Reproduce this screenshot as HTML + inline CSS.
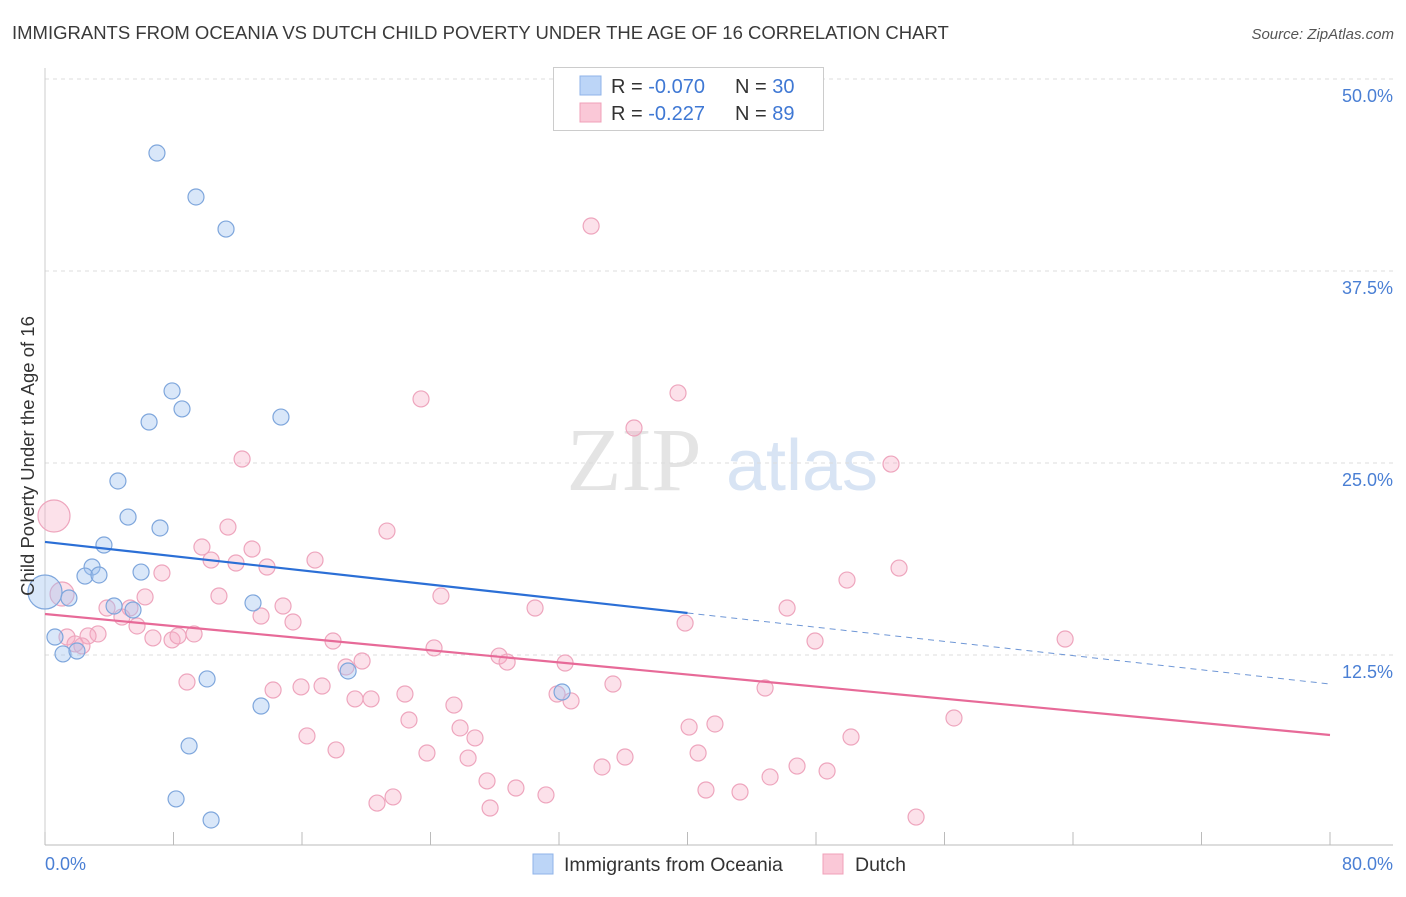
<!DOCTYPE html>
<html><head><meta charset="utf-8"><style>
body{margin:0;background:#fff;font-family:"Liberation Sans",sans-serif}
</style></head><body>
<svg id="c" width="1406" height="892" xmlns="http://www.w3.org/2000/svg" font-family="Liberation Sans, sans-serif">
<text x="12" y="39" font-size="18.5" fill="#3a3a3a">IMMIGRANTS FROM OCEANIA VS DUTCH CHILD POVERTY UNDER THE AGE OF 16 CORRELATION CHART</text>
<text x="1394" y="39" font-size="15" fill="#555" font-style="italic" text-anchor="end">Source: ZipAtlas.com</text>
<text x="634" y="490" font-size="90" fill="#e4e4e4" font-family="Liberation Serif, serif" text-anchor="middle">ZIP</text>
<text x="802" y="490" font-size="72" fill="#d8e4f4" text-anchor="middle">atlas</text>
<g id="grid"></g><g id="pts"></g><g id="lines"></g>
<text transform="translate(34,456) rotate(-90)" font-size="18.5" fill="#333" text-anchor="middle">Child Poverty Under the Age of 16</text>
<text x="45" y="870" font-size="18" fill="#4a7fd4">0.0%</text>
<text x="1393" y="870" font-size="18" fill="#4a7fd4" text-anchor="end">80.0%</text>
<g>
<rect x="553.5" y="67.5" width="270" height="63" fill="#fff" stroke="#ccc"/>
<rect x="580" y="76" width="21" height="19" fill="#bcd5f7" stroke="#8fb3e8"/>
<rect x="580" y="103" width="21" height="19" fill="#fac8d7" stroke="#f0a0b8"/>
<text x="611" y="93" font-size="20" fill="#333">R = <tspan fill="#3f78d4">-0.070</tspan></text>
<text x="735" y="93" font-size="20" fill="#333">N = <tspan fill="#3f78d4">30</tspan></text>
<text x="611" y="120" font-size="20" fill="#333">R =  <tspan fill="#3f78d4">-0.227</tspan></text>
<text x="735" y="120" font-size="20" fill="#333">N =  <tspan fill="#3f78d4">89</tspan></text>
</g>
<g>
<rect x="533" y="854" width="20" height="20" fill="#bcd5f7" stroke="#8fb3e8"/>
<text x="564" y="871" font-size="19.5" fill="#333">Immigrants from Oceania</text>
<rect x="823" y="854" width="20" height="20" fill="#fac8d7" stroke="#f0a0b8"/>
<text x="855" y="871" font-size="19.5" fill="#333">Dutch</text>
</g>
</svg>
<script>
const yTicks=[12.5,25,37.5,50];
const xTicks=[0,8,16,24,32,40,48,56,64,72,80];
const blueX=[6.97,9.40,11.27,7.91,8.53,6.48,14.69,4.54,5.17,7.16,3.67,2.93,2.49,3.36,5.98,1.49,4.30,5.48,12.95,0.62,1.12,1.99,10.09,18.87,32.19,13.45,8.97,8.16,10.34,0.0];
const blueY=[45.18,42.32,40.23,29.69,28.52,27.67,27.99,23.83,21.48,20.77,19.66,18.23,17.64,17.71,17.90,16.21,15.69,15.43,15.89,13.67,12.57,12.76,10.94,11.46,10.09,9.18,6.58,3.13,1.76,16.6];
const pinkX=[34.0,23.41,39.41,36.67,52.67,12.27,11.39,21.29,0.56,9.77,12.89,10.34,11.89,13.82,16.81,7.28,49.93,53.17,6.23,10.83,24.65,1.06,3.86,5.29,14.82,30.51,46.20,4.79,13.45,15.44,5.73,39.85,1.37,3.30,2.68,6.72,7.91,8.28,9.28,2.30,1.87,17.93,47.94,63.51,24.22,28.27,28.77,32.38,19.74,18.74,8.84,14.20,15.94,17.25,35.36,44.83,22.41,31.88,19.30,20.30,32.75,25.46,22.66,56.59,41.71,40.10,25.84,16.31,26.77,50.18,18.12,23.78,40.66,26.34,36.11,34.68,46.82,48.69,45.14,27.52,29.32,41.15,43.27,31.19,21.67,20.67,27.71,54.23];
const pinkY=[40.43,29.17,29.56,27.28,24.93,25.26,20.83,20.57,21.55,19.53,19.40,18.68,18.49,18.23,18.68,17.84,17.38,18.16,16.28,16.34,16.34,16.47,15.56,15.56,15.69,15.56,15.56,14.97,15.04,14.65,14.39,14.58,13.67,13.87,13.74,13.61,13.48,13.74,13.87,13.09,13.22,13.41,13.41,13.54,12.96,12.43,12.04,11.98,12.11,11.72,10.74,10.22,10.42,10.48,10.61,10.35,9.96,9.96,9.64,9.64,9.51,9.24,8.27,8.40,8.01,7.81,7.75,7.23,7.10,7.16,6.32,6.12,6.12,5.79,5.86,5.21,5.27,4.95,4.56,4.30,3.84,3.71,3.58,3.39,3.26,2.86,2.54,1.95];
const blueTrend=[19.86,10.61];
const pinkTrend=[15.17,7.29];
const X=v=>45+v/80*1285, Y=v=>847-v*15.36;
const NS='http://www.w3.org/2000/svg';
function mk(t,a,p){const e=document.createElementNS(NS,t);for(const k in a)e.setAttribute(k,a[k]);p.appendChild(e);return e;}
const g=document.getElementById('grid');
yTicks.forEach(t=>{const l=mk('line',{x1:45,x2:1393,y1:Y(t),y2:Y(t),stroke:'#ddd','stroke-dasharray':'4,4'},g);


const tx=mk('text',{x:1393,y:Y(t)+23,'font-size':18,fill:'#4a7fd4','text-anchor':'end'},g);tx.textContent=t.toFixed(1)+'%';

});
const ax=mk('line',{x1:45,x2:1393,y1:845,y2:845,stroke:'#bbb'},g);


const ay=mk('line',{x1:45,x2:45,y1:68,y2:845,stroke:'#ccc'},g);


xTicks.forEach(t=>{const l=mk('line',{x1:X(t),x2:X(t),y1:832,y2:845,stroke:'#bbb'},g);

});
const p=document.getElementById('pts');
pinkX.forEach((v,i)=>{const big=(i==8);const c=mk('circle',{cx:X(v),cy:Y(pinkY[i]),r:big?16:(i==21?12:8),fill:'rgba(247,170,195,0.35)',stroke:'#eea5bd','stroke-width':1.2},p);

});
blueX.forEach((v,i)=>{const big=(i==29);const c=mk('circle',{cx:X(v),cy:Y(blueY[i]),r:big?17:8,fill:'rgba(160,195,240,0.4)',stroke:'#7ea6dc','stroke-width':1.2},p);

});
const L=document.getElementById('lines');
const bx=40,by=blueTrend[0]+(blueTrend[1]-blueTrend[0])*bx/80;
const b1=mk('line',{x1:X(0),y1:Y(blueTrend[0]),x2:X(bx),y2:Y(by),stroke:'#2b6fd6','stroke-width':2.2},L);


const b2=mk('line',{x1:X(bx),y1:Y(by),x2:X(80),y2:Y(blueTrend[1]),stroke:'#6f97d6','stroke-width':1,'stroke-dasharray':'6,5'},L);


const p1=mk('line',{x1:X(0),y1:Y(pinkTrend[0]),x2:X(80),y2:Y(pinkTrend[1]),stroke:'#e76a98','stroke-width':2.2},L);


</script>
</body></html>
